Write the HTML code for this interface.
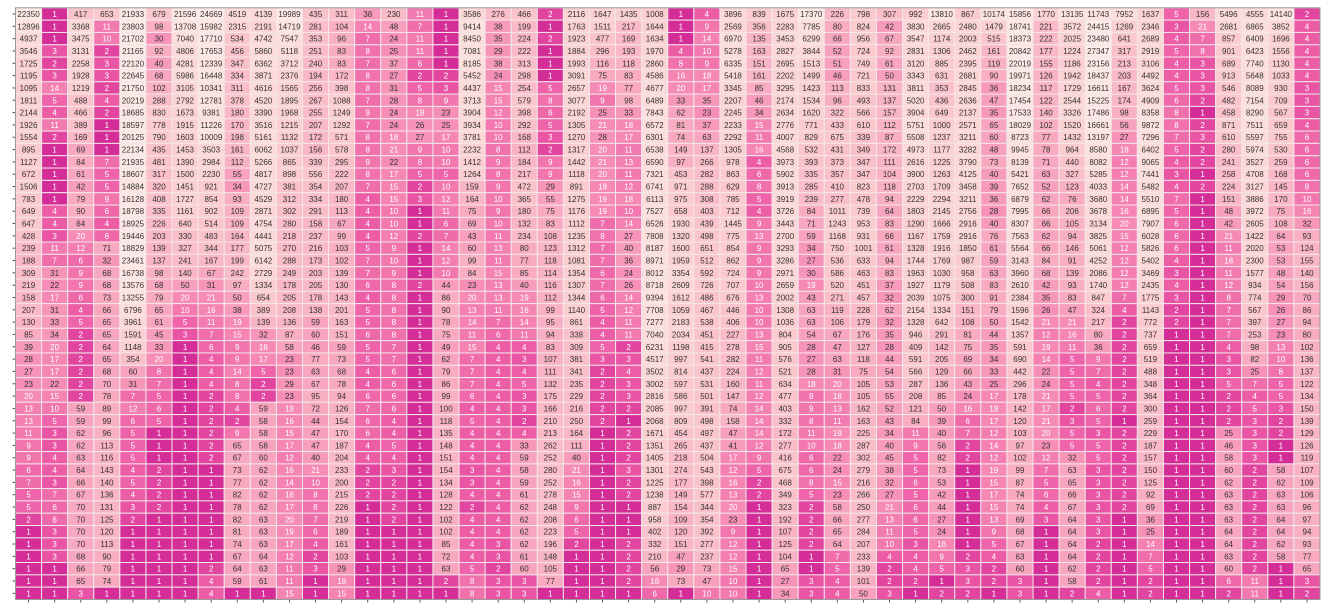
<!DOCTYPE html>
<html><head><meta charset="utf-8">
<style>
html,body{margin:0;padding:0;background:#fff;width:1328px;height:613px;overflow:hidden}
svg{display:block}
text{font-family:"Liberation Sans",sans-serif;font-size:8px}
</style></head>
<body>
<svg id="chart" width="1328" height="613"></svg>
<script>
const rowLabels = Array.from({length:48},(_,i)=>'r'+i);
const colLabels = Array.from({length:50},(_,i)=>'c'+i);
const values = [
[22350,1,417,653,21933,679,21596,24669,4519,4139,19989,435,311,38,230,11,1,3586,276,466,2,2116,1647,1435,1008,1,4,3896,839,1675,17370,226,798,307,992,13810,867,10174,15856,1770,13135,11743,7952,1637,5,156,5496,4555,14140,2],
[12896,1,3368,11,23803,98,13708,15982,2315,2191,14719,281,104,14,48,7,1,9414,38,199,1,1763,1511,217,1644,1,9,2569,356,2283,7785,80,824,42,3830,2665,2480,1479,18741,221,3572,24415,1269,2346,3,21,2681,6865,3852,4],
[4937,1,3475,10,21702,30,7040,17710,534,4742,7547,353,96,7,24,11,1,8450,35,224,2,1923,477,169,1634,1,14,6970,135,3453,6299,66,956,67,3547,1174,2003,515,18373,222,2025,23480,641,2689,4,7,857,6409,1696,4],
[3546,3,3131,2,21165,92,4806,17653,456,5860,5118,251,83,8,25,11,1,7081,29,222,1,1884,296,193,1970,4,10,5278,163,2827,3844,52,724,92,2831,1306,2462,161,20842,177,1224,27347,317,2919,5,8,901,6423,1556,4],
[1725,2,2258,3,22120,40,4281,12339,347,6362,3712,240,83,7,37,6,1,8185,38,313,1,1993,116,118,2860,8,9,6335,151,2695,1513,51,749,61,3120,885,2395,119,22019,155,1186,23156,213,3106,4,3,689,7740,1130,4],
[1195,3,1928,3,22645,68,5986,16448,334,3871,2376,194,172,8,27,2,2,5452,24,298,1,3091,75,83,4586,16,18,5418,161,2202,1499,46,721,50,3343,631,2681,90,19971,126,1942,18437,203,4492,4,3,913,5648,1033,4],
[1095,14,1219,2,21750,102,3105,10341,311,4616,1565,256,398,8,31,5,3,4437,15,254,5,2657,19,77,4677,20,17,3345,85,3295,1423,113,833,131,3811,353,2845,36,18234,117,1729,16611,167,3624,5,3,546,8089,930,3],
[1811,5,488,4,20219,288,2792,12781,378,4520,1895,267,1088,7,28,8,9,3713,15,579,8,3077,9,98,6489,33,35,2207,46,2174,1534,96,493,137,5020,436,2636,47,17454,122,2544,15225,174,4909,6,2,482,7154,709,3],
[2144,4,466,2,18685,830,1673,9381,180,3390,1968,255,1249,9,24,18,23,3904,12,398,6,2192,25,33,7843,62,23,2245,34,2634,1620,322,566,157,3904,649,2137,35,17533,140,3326,17486,98,8358,8,1,458,8290,567,3],
[1926,11,389,1,18597,778,1915,11226,170,3516,1215,207,1292,7,24,26,25,3934,10,292,5,1305,21,18,6572,81,37,2233,15,2776,771,433,610,112,5751,1000,2571,65,18029,102,1520,16661,56,9872,8,2,871,7511,659,4],
[1554,2,169,1,20125,790,1603,10009,198,5161,1132,172,571,8,18,27,17,3781,10,168,3,1270,28,17,6301,74,63,2292,11,4007,829,675,339,87,5508,1237,3211,60,8723,77,1432,13197,27,7296,7,3,610,5597,755,6],
[895,1,69,1,22134,435,1453,3503,161,6062,1037,156,578,8,21,9,10,2232,8,112,2,1317,20,11,6538,149,137,1305,16,4568,532,431,349,172,4973,1177,3282,48,9945,78,964,8580,18,6402,5,2,280,5974,530,6],
[1127,1,84,7,21935,481,1390,2984,112,5266,865,339,295,9,22,8,10,1412,9,184,9,1442,21,13,6590,97,266,978,4,3973,393,373,347,111,2616,1225,3790,73,8139,71,440,8082,12,9065,4,2,241,3527,259,6],
[672,1,61,5,18607,317,1500,2230,55,4817,898,556,222,8,17,5,5,1264,8,217,9,1118,20,11,7321,453,282,863,6,5902,335,357,347,104,3900,1263,4125,40,5421,63,327,5285,12,7441,3,1,258,4708,168,6],
[1506,1,42,5,14884,320,1451,921,34,4727,381,354,207,7,15,2,10,159,9,472,29,891,18,12,6741,971,288,629,8,3913,285,410,823,118,2703,1709,3458,39,7652,52,123,4033,14,5482,4,2,224,3127,145,8],
[783,1,79,9,16128,408,1727,854,93,4529,312,334,180,4,15,3,12,164,10,365,55,1275,19,18,6113,975,308,785,5,3919,239,277,478,94,2229,2294,3211,36,6879,62,76,3680,14,5510,7,1,151,3886,170,10],
[649,4,90,6,18798,335,1161,902,109,2871,302,291,113,4,10,1,11,75,9,180,75,1176,19,10,7527,658,403,712,4,3726,84,1011,739,64,1803,2145,2756,28,7995,66,206,3678,16,6895,5,1,48,3972,75,16],
[647,4,64,4,18925,226,640,514,109,4754,280,158,67,4,10,1,6,69,10,132,83,1112,7,14,6526,1930,439,1445,9,3443,71,1243,953,83,1290,1666,2916,40,8307,66,105,3134,20,7907,6,1,42,2605,108,32],
[428,3,20,6,19446,203,330,483,164,4441,218,237,99,4,12,2,7,43,11,234,108,1235,8,27,7808,1320,498,775,13,2700,59,1168,931,66,1167,1759,2916,76,7563,62,94,3825,15,6028,6,1,21,1422,64,93],
[239,11,12,71,18829,139,327,344,177,5075,270,216,103,5,9,1,14,60,13,80,123,1312,7,40,8187,1600,651,854,9,3293,34,750,1001,61,1328,1916,1850,61,5564,66,146,5061,12,5826,6,1,11,2020,53,124],
[188,7,6,32,23461,137,241,167,199,6142,288,173,102,7,10,1,12,99,11,77,118,1081,7,36,8971,1959,512,862,9,3286,27,536,633,94,1744,1769,987,59,3143,84,91,4252,12,5402,4,1,18,2300,53,155],
[309,31,9,68,16738,98,140,67,242,2729,249,203,139,7,9,1,10,84,15,85,114,1354,6,24,8012,3354,592,724,9,2971,30,586,463,83,1963,1030,958,63,3960,68,139,2086,12,3469,3,1,11,1577,48,140],
[219,22,9,68,13576,68,50,31,97,1334,178,205,130,6,8,2,44,23,13,40,116,1307,7,26,8718,2609,726,707,10,2659,19,520,451,37,1927,1179,508,83,2610,42,93,1740,12,2435,4,1,12,934,54,156],
[158,17,6,73,13255,79,20,21,50,654,205,178,143,4,8,1,86,20,13,19,112,1344,6,14,9394,1612,486,676,13,2002,43,271,457,32,2039,1075,300,91,2384,35,83,847,7,1775,3,1,8,774,29,70],
[207,31,4,66,6796,65,10,16,38,389,208,138,201,5,8,1,90,13,11,16,99,1140,5,12,7708,1059,467,446,10,1308,63,119,228,62,2154,1334,151,79,1596,26,47,324,4,1143,2,1,7,567,26,86],
[130,33,5,65,3961,61,5,11,19,139,136,59,163,5,8,1,78,14,7,14,95,861,4,11,7277,2183,538,406,10,1036,63,106,179,32,1328,642,108,50,1542,21,21,217,2,772,2,1,7,397,27,94],
[85,34,2,65,1591,45,3,7,15,32,87,60,151,6,8,1,75,11,6,11,94,338,4,11,7040,2034,451,227,13,804,54,67,176,35,946,291,81,44,1357,12,16,80,2,737,1,1,7,253,23,80],
[39,20,2,64,1148,33,1,6,9,18,58,46,59,5,7,1,49,15,4,4,83,309,5,2,6231,1198,415,278,15,905,28,47,127,28,409,142,75,35,591,19,11,36,2,659,1,1,4,98,13,102],
[28,17,2,65,354,20,1,4,9,17,23,77,73,5,7,1,62,7,4,3,107,381,3,3,4517,997,541,282,11,576,27,63,118,44,591,205,69,34,690,14,5,9,2,519,1,1,3,82,10,136],
[27,17,2,68,60,8,1,4,14,5,23,63,68,4,6,1,79,7,4,4,111,341,2,4,3502,814,437,224,12,521,28,31,75,54,566,129,66,33,442,22,5,7,2,488,1,1,3,25,8,137],
[23,22,2,70,31,7,1,4,8,2,29,67,78,4,6,1,86,7,4,5,132,235,2,3,3002,597,531,160,11,634,18,20,105,53,287,136,43,25,296,24,5,4,2,348,1,1,5,7,5,122],
[20,15,2,78,7,5,1,2,8,2,23,95,94,6,6,1,99,6,4,3,175,229,2,3,2816,586,501,147,12,477,8,18,105,55,208,85,24,17,178,21,5,5,2,364,1,1,2,4,5,134],
[13,10,59,89,12,6,1,2,4,59,19,72,126,7,6,1,100,4,4,3,166,216,2,2,2085,997,391,74,14,403,9,13,162,52,121,50,16,19,142,17,2,6,2,300,1,1,2,5,3,150],
[13,5,59,99,6,5,1,2,2,58,16,44,154,6,4,1,118,5,4,2,210,250,2,1,2068,809,498,158,14,332,8,11,163,43,84,39,6,17,120,21,3,5,1,259,1,1,2,3,2,139],
[11,3,62,96,5,1,1,2,9,58,15,47,170,6,4,1,135,4,4,4,213,164,1,2,1671,454,497,47,14,172,11,19,225,34,11,40,7,12,103,20,5,3,2,229,1,1,25,3,2,129],
[9,3,62,113,5,1,1,2,65,58,17,47,187,4,5,1,148,4,4,33,262,111,1,2,1351,265,437,41,12,277,10,18,287,40,9,56,2,14,97,23,5,5,2,187,1,1,46,3,1,126],
[9,4,63,116,5,1,1,2,67,60,12,40,204,4,4,1,151,4,4,59,252,40,1,2,1405,218,504,17,9,416,6,22,302,45,5,82,2,12,102,12,32,5,2,157,1,1,58,3,1,119],
[6,4,64,143,4,2,1,1,73,62,16,21,233,2,3,1,154,3,4,58,280,21,1,3,1301,274,543,12,5,675,6,24,279,38,5,73,1,19,99,7,63,3,2,150,1,1,60,2,58,107],
[7,3,66,140,5,2,1,1,77,62,14,10,200,2,2,1,134,3,4,59,252,16,1,2,1225,177,398,16,2,468,8,15,216,32,6,53,1,15,87,5,65,3,2,125,1,1,62,2,62,109],
[5,7,67,136,4,2,1,1,82,62,16,8,215,2,2,1,128,4,4,61,278,15,1,2,1238,149,577,13,2,349,5,23,266,27,5,42,1,17,74,6,66,3,2,92,1,1,63,2,63,106],
[5,6,70,131,3,2,1,1,78,62,17,8,226,1,2,1,122,2,4,62,248,9,1,1,887,154,344,20,1,323,2,58,250,21,6,44,1,15,74,4,67,3,2,69,1,1,63,2,63,96],
[2,6,70,125,2,1,1,1,82,63,20,7,219,1,2,1,102,4,4,62,208,6,1,1,958,109,354,23,1,192,2,66,277,13,6,27,1,13,69,3,64,3,1,36,1,1,63,2,64,97],
[1,3,70,120,1,1,1,1,81,63,19,6,189,1,1,1,102,4,4,62,223,5,1,1,402,120,392,9,1,107,2,65,284,11,5,24,1,9,68,1,64,3,1,25,1,1,64,2,64,94],
[1,3,70,113,1,1,1,1,74,63,17,4,161,1,1,1,85,4,3,62,196,2,1,2,332,151,277,12,1,125,2,64,207,10,3,16,1,5,67,1,64,2,1,14,1,1,64,2,62,93],
[1,3,68,90,1,1,1,1,67,64,12,2,103,1,1,1,72,4,3,61,148,1,1,2,210,47,237,12,1,104,1,7,233,4,4,9,2,4,63,1,64,2,1,7,1,1,63,2,58,77],
[1,1,66,79,1,1,1,2,64,63,11,3,29,1,1,1,63,5,2,60,105,1,1,2,56,29,73,15,1,65,1,5,139,2,4,5,3,2,60,1,62,2,1,5,1,1,60,2,1,65],
[1,1,65,74,1,1,1,4,59,61,11,1,18,1,1,1,2,8,3,3,77,1,1,2,18,73,47,10,1,27,3,4,101,2,2,1,3,2,3,1,58,2,1,2,1,1,6,11,1,3],
[1,1,3,1,1,1,1,4,1,1,15,1,15,1,1,1,1,8,3,3,1,1,1,1,6,1,10,10,1,34,3,4,50,3,1,2,2,1,3,1,2,4,1,2,1,1,2,11,1,2]
];

const NS='http://www.w3.org/2000/svg';
const svg=document.getElementById('chart');
const L=15.5,T=7.8,R=1320,B=599.5;
const cw=(R-L)/colLabels.length, rh=(B-T)/rowLabels.length;
const xPos=i=>L+i*cw, yPos=j=>T+j*rh;
let vmax=1; values.forEach(r=>r.forEach(v=>{if(v>vmax)vmax=v;}));
const stops=[[0,[212,45,151]],[0.12,[236,88,165]],[0.28,[246,136,180]],[0.45,[249,176,195]],[0.65,[251,202,206]],[0.85,[252,220,218]],[1,[253,236,232]]];
function color(v){
  const t=Math.max(0,Math.min(1,Math.log10(Math.max(v,1))/Math.log10(vmax)));
  for(let k=1;k<stops.length;k++){
    if(t<=stops[k][0]){const a=stops[k-1],b=stops[k],f=(t-a[0])/(b[0]-a[0]);
      return 'rgb('+a[1].map((c,i)=>Math.round(c+(b[1][i]-c)*f)).join(',')+')';}
  }
  return 'rgb(253,236,232)';
}
function mk(tag,attrs){const e=document.createElementNS(NS,tag);for(const k in attrs)e.setAttribute(k,attrs[k]);svg.appendChild(e);return e;}
values.forEach((row,j)=>{
  row.forEach((v,i)=>{
    const r=mk('rect',{x:xPos(i),y:yPos(j),width:cw,height:rh,fill:color(v),stroke:'#f3e6ea','stroke-width':1});
    
    
    const t=mk('text',{x:xPos(i)+cw/2,y:yPos(j)+rh/2+3,'text-anchor':'middle',fill:(Math.log10(Math.max(v,1))/Math.log10(vmax)<0.3)?'#ffffff':'#333333'});
    t.textContent=v;
    
    
  });
});
rowLabels.forEach((r,j)=>{
  const tk=mk('line',{x1:L-3,x2:L,y1:yPos(j)+rh/2,y2:yPos(j)+rh/2,stroke:'#555','stroke-width':1});
  
  
});
colLabels.forEach((c,i)=>{
  const tk=mk('line',{x1:xPos(i)+cw/2,x2:xPos(i)+cw/2,y1:B,y2:B+3,stroke:'#555','stroke-width':1});
  
  
});
const fr=mk('rect',{x:L,y:T,width:R-L,height:B-T,fill:'none',stroke:'#999','stroke-width':1});


</script>
</body></html>
